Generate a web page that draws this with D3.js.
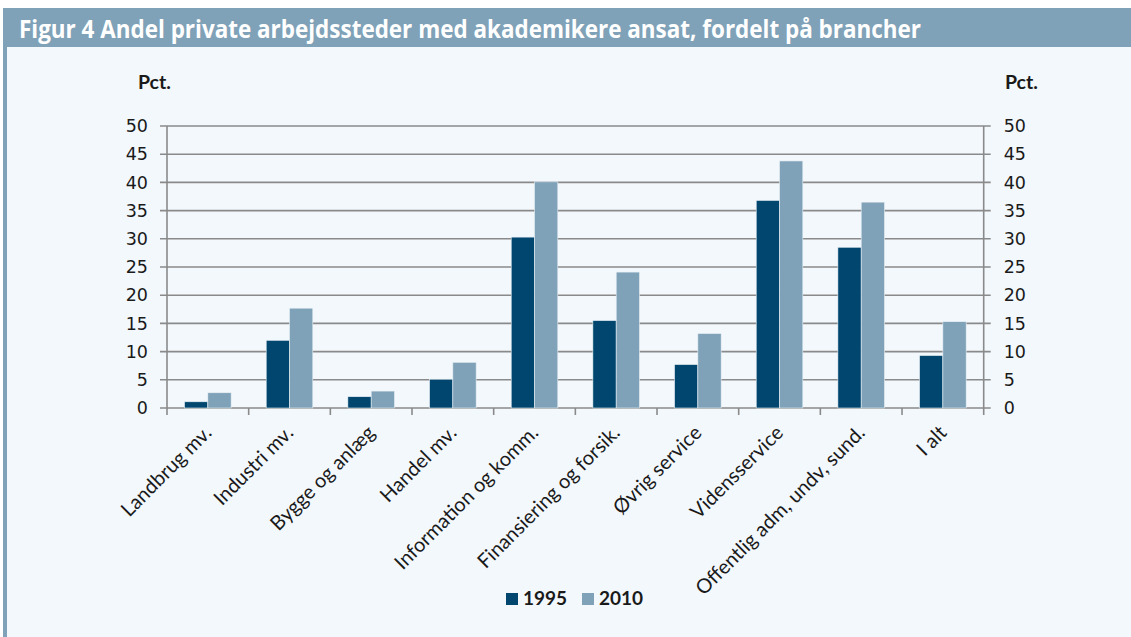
<!DOCTYPE html>
<html>
<head>
<meta charset="utf-8">
<script src="https://cdn.jsdelivr.net/npm/d3@7"></script>
<style>
  body { margin: 0; background: #ffffff; }
  svg { display: block; font-family: Lato, "Open Sans", sans-serif; }
</style>
</head>
<body>
<div id="chart"></div>
<script>
// Data
const categories = ["Landbrug mv.", "Industri mv.", "Bygge og anlæg", "Handel mv.",
    "Information og komm.", "Finansiering og forsik.", "Øvrig service", "Vidensservice",
    "Offentlig adm, undv, sund.", "I alt"];
const values1995 = [1.1, 12.0, 2.0, 5.1, 30.3, 15.5, 7.7, 36.8, 28.5, 9.3];
const values2010 = [2.7, 17.7, 3.0, 8.1, 40.1, 24.1, 13.2, 43.8, 36.5, 15.3];
const seriesNames = ["1995", "2010"];
const yTicks = [0, 5, 10, 15, 20, 25, 30, 35, 40, 45, 50];

const width = 1131;
const height = 637;
const colors = { "1995": "#00466e", "2010": "#7fa2b8" };

const svg = d3.select("#chart")
    .append("svg")
    .attr("width", width)
    .attr("height", height);

// background panel + left border
svg.append("rect").attr("x", 0).attr("y", 0).attr("width", width).attr("height", height).attr("fill", "#ffffff");
svg.append("rect").attr("x", 3).attr("y", 8).attr("width", width - 3).attr("height", height - 8).attr("fill", "#f3f8fc");
svg.append("rect").attr("x", 3).attr("y", 8).attr("width", 4).attr("height", height - 8).attr("fill", "#7fa2b8");

// title bar
svg.append("rect").attr("x", 3).attr("y", 8).attr("width", width - 3).attr("height", 39).attr("fill", "#7fa2b8");
svg.append("text")
    .attr("x", 19).attr("y", 38)
    .attr("fill", "#ffffff")
    .attr("font-family", "'Liberation Sans Narrow', 'Open Sans', sans-serif")
    .attr("font-weight", "bold")
    .attr("font-size", 25)
    .attr("textLength", 902)
    .attr("lengthAdjust", "spacingAndGlyphs")
    .text("Figur 4 Andel private arbejdssteder med akademikere ansat, fordelt på brancher");

const margin = { left: 167, right: width - 983.7, top: 126, bottom: height - 408 };

const x = d3.scaleBand()
    .domain(categories)
    .range([margin.left, width - margin.right])
    .paddingInner(0)
    .paddingOuter(0);

const xSub = d3.scaleBand()
    .domain(seriesNames)
    .range([0, 46.6])
    .padding(0);

const y = d3.scaleLinear()
    .domain([0, 50])
    .range([408, 126]);

const gridColor = "#8a8a8a";

// gridlines
svg.append("g")
    .selectAll("line")
    .data(yTicks)
    .enter().append("line")
    .attr("x1", margin.left - 7)
    .attr("x2", width - margin.right + 7)
    .attr("y1", d => y(d))
    .attr("y2", d => y(d))
    .attr("stroke", gridColor)
    .attr("stroke-width", 1.6);

// left axis
const leftAxis = svg.append("g")
    .attr("transform", `translate(${margin.left},0)`)
    .call(d3.axisLeft(y).tickValues(yTicks).tickSize(0).tickPadding(19));
leftAxis.select(".domain").remove();
leftAxis.selectAll("text").attr("font-size", 17.5).attr("fill", "#1a1a1a").attr("font-family", "'DejaVu Sans', sans-serif");

const rightAxis = svg.append("g")
    .attr("transform", `translate(${width - margin.right},0)`)
    .call(d3.axisRight(y).tickValues(yTicks).tickSize(0).tickPadding(20));
rightAxis.select(".domain").remove();
rightAxis.selectAll("text").attr("font-size", 17.5).attr("fill", "#1a1a1a").attr("font-family", "'DejaVu Sans', sans-serif");

// vertical axis lines
[margin.left, width - margin.right].forEach(xx => {
    svg.append("line")
        .attr("x1", xx).attr("x2", xx)
        .attr("y1", y(50)).attr("y2", y(0) + 7)
        .attr("stroke", gridColor).attr("stroke-width", 1.6);
});

// category ticks
svg.append("g")
    .selectAll("line")
    .data(categories.slice(1))
    .enter().append("line")
    .attr("x1", d => x(d)).attr("x2", d => x(d))
    .attr("y1", y(0)).attr("y2", y(0) + 7)
    .attr("stroke", gridColor).attr("stroke-width", 1.6);

// bars
const groupOffset = (x.bandwidth() - 46.6) / 2;
const rows = categories.map((c, i) => ({ cat: c, "1995": values1995[i], "2010": values2010[i] }));
const groups = svg.append("g")
    .selectAll("g")
    .data(rows)
    .enter().append("g")
    .attr("transform", d => `translate(${x(d.cat) + groupOffset},0)`);

groups.selectAll("rect")
    .data(d => seriesNames.map(s => ({ s: s, v: d[s] })))
    .enter().append("rect")
    .attr("x", d => xSub(d.s))
    .attr("width", xSub.bandwidth())
    .attr("y", d => y(d.v))
    .attr("height", d => y(0) - y(d.v))
    .attr("fill", d => colors[d.s])
    .attr("stroke", "#e8f0f6")
    .attr("stroke-width", 0.6);

// category labels
svg.append("g")
    .selectAll("text")
    .data(categories)
    .enter().append("text")
    .attr("transform", d => `translate(${x(d) + x.bandwidth() / 2 + 5},${y(0) + 26}) rotate(-45)`)
    .attr("text-anchor", "end")
    .attr("font-size", 20)
    .attr("fill", "#1a1a1a")
    .text(d => d);

// Pct. labels
svg.append("text").attr("x", 138).attr("y", 89).attr("font-size", 19.5).attr("font-weight", "bold").attr("fill", "#1a1a1a").text("Pct.");
svg.append("text").attr("x", 1005).attr("y", 89).attr("font-size", 19.5).attr("font-weight", "bold").attr("fill", "#1a1a1a").text("Pct.");

// legend
const legend = svg.append("g");
const legendX = [506, 582];
seriesNames.forEach((s, i) => {
    legend.append("rect")
        .attr("x", legendX[i]).attr("y", 593)
        .attr("width", 12).attr("height", 12)
        .attr("fill", colors[s]);
    legend.append("text")
        .attr("x", legendX[i] + 17).attr("y", 605)
        .attr("font-size", 19).attr("font-weight", "bold").attr("fill", "#1a1a1a")
        .text(s);
});
</script>
</body>
</html>
